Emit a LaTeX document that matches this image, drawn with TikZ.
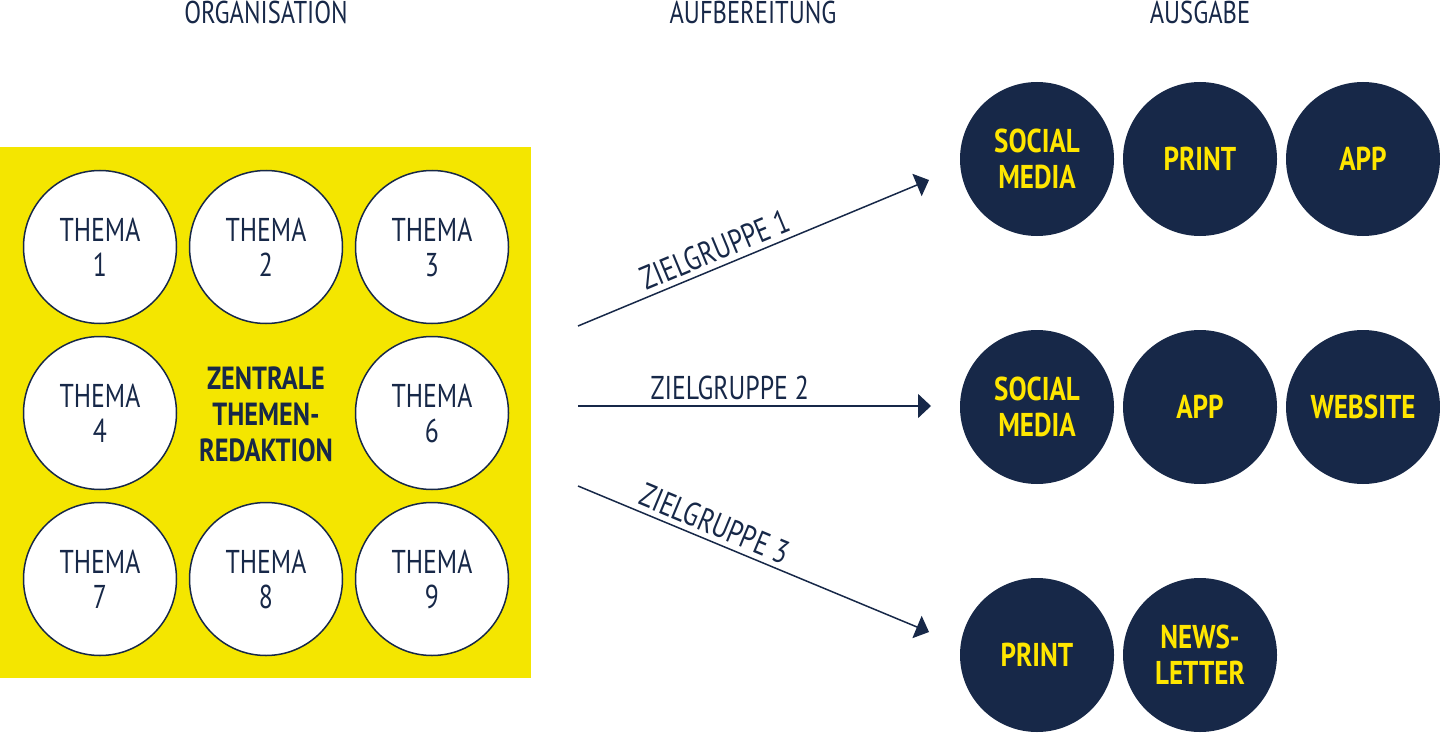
\documentclass[tikz,border=0pt]{standalone}
\usepackage{fontspec}
\setmainfont{PT Sans}[FakeStretch=0.78, BoldFeatures={FakeStretch=0.82}]
\usetikzlibrary{arrows.meta}
\definecolor{navy}{HTML}{172848}
\definecolor{boxyellow}{HTML}{F4E600}
\definecolor{txtyellow}{HTML}{FFE600}
\tikzset{
  topic/.style={circle, draw=navy, line width=1.5pt, fill=white, minimum size=153pt, inner sep=0pt,
    text=navy, align=center, font=\fontsize{33}{35}\selectfont},
  outlet/.style={circle, fill=navy, minimum size=154pt, inner sep=0pt,
    text=txtyellow, align=center, font=\bfseries\fontsize{33}{36}\selectfont},
  heading/.style={text=navy, anchor=base, inner sep=0pt, font=\fontsize{31.5}{33}\selectfont},
  flow/.style={draw=navy, line width=1.5pt, -{Triangle[length=13pt,width=24pt]}},
  flowlabel/.style={text=navy, sloped, above, inner sep=5pt, font=\fontsize{33}{35}\selectfont}
}
\begin{document}
\begin{tikzpicture}[x=1pt,y=-1pt]
\useasboundingbox (0,0) rectangle (1440,733);
% headings
\node[heading] (h1) at (266,24) {ORGANISATION};
\node[heading] (h2) at (753,24) {AUFBEREITUNG};
\node[heading] (h3) at (1200,24) {AUSGABE};
% yellow block
\fill[boxyellow] (0,147) rectangle (531,678);
\node[topic] (t1) at (100,247) {THEMA\\1};
\node[topic] (t2) at (266,247) {THEMA\\2};
\node[topic] (t3) at (432,247) {THEMA\\3};
\node[topic] (t4) at (100,413) {THEMA\\4};
\node[topic] (t6) at (432,413) {THEMA\\6};
\node[topic] (t7) at (100,579) {THEMA\\7};
\node[topic] (t8) at (266,579) {THEMA\\8};
\node[topic] (t9) at (432,579) {THEMA\\9};
\node[text=navy, align=center, inner sep=0pt, font=\bfseries\fontsize{32}{36}\selectfont] (zr) at (266,414) {ZENTRALE\\THEMEN-\\REDAKTION};
% outlets
\node[outlet] (a1) at (1037,159) {SOCIAL\\MEDIA};
\node[outlet] (a2) at (1200,159) {PRINT};
\node[outlet] (a3) at (1363,159) {APP};
\node[outlet] (b1) at (1037,407) {SOCIAL\\MEDIA};
\node[outlet] (b2) at (1200,407) {APP};
\node[outlet] (b3) at (1363,407) {WEBSITE};
\node[outlet] (c1) at (1037,655) {PRINT};
\node[outlet] (c2) at (1200,655) {NEWS-\\LETTER};
% arrows
\coordinate (s1) at (578,326);
\coordinate (e1) at (929,180);
\coordinate (s2) at (578,406);
\coordinate (e2) at (931,406);
\coordinate (s3) at (578,486);
\coordinate (e3) at (929,632);
\draw[flow] (s1) -- node[flowlabel, pos=0.41] (l1) {ZIELGRUPPE 1} (e1);
\draw[flow] (s2) -- node[flowlabel, pos=0.43] (l2) {ZIELGRUPPE 2} (e2);
\draw[flow] (s3) -- node[flowlabel, pos=0.37] (l3) {ZIELGRUPPE 3} (e3);
\end{tikzpicture}
\end{document}
